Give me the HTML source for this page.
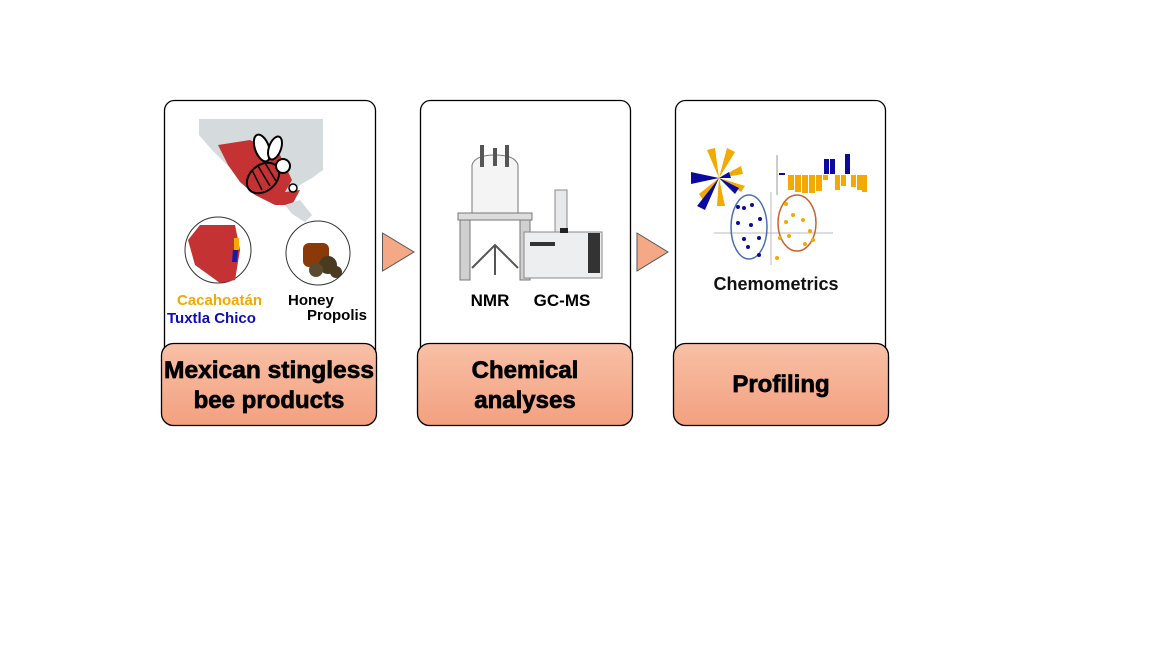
<!DOCTYPE html>
<html><head><meta charset="utf-8"><style>
html,body{margin:0;padding:0;background:#fff;width:1152px;height:648px;overflow:hidden}
svg{display:block}
text{font-family:"Liberation Sans",Arial,sans-serif;font-weight:bold}
.big{stroke:#000;stroke-width:0.7}
</style></head><body>
<svg width="1152" height="648" viewBox="0 0 1152 648">
<defs>
<linearGradient id="g" x1="0" y1="0" x2="0" y2="1"><stop offset="0" stop-color="#f8c0a6"/><stop offset="1" stop-color="#f3a07f"/></linearGradient>
</defs>
<!-- panel 1 -->
<rect x="164.5" y="100.5" width="211" height="260" rx="10" fill="#fff" stroke="#000" stroke-width="1.3"/>
<path d="M199 119 L323 119 L323 170 L312 178 L300 185 L290 196 L276 204 L258 192 L245 180 L230 168 L212 150 L199 135Z" fill="#d5dbdc"/>
<path d="M218 145 L250 140 L280 155 L292 180 L285 192 L300 190 L292 205 L275 205 L255 195 L240 182 L228 165Z" fill="#c53233"/>
<path d="M285 205 L300 200 L312 215 L305 222 L292 214Z" fill="#d5dbdc"/>
<ellipse cx="263" cy="178" rx="13" ry="18" fill="#c53233" stroke="#000" stroke-width="2" transform="rotate(50 263 178)"/>
<path d="M252 170 L262 190 M258 166 L270 186 M265 163 L276 181" stroke="#000" stroke-width="1.5"/>
<ellipse cx="262" cy="148" rx="7" ry="14" fill="#fff" stroke="#000" stroke-width="2" transform="rotate(-20 262 148)"/>
<ellipse cx="275" cy="148" rx="6" ry="12" fill="#fff" stroke="#000" stroke-width="2" transform="rotate(20 275 148)"/>
<circle cx="283" cy="166" r="7" fill="#fff" stroke="#000" stroke-width="2"/>
<circle cx="293" cy="188" r="4" fill="#fff" stroke="#000" stroke-width="1.5"/>
<circle cx="218" cy="250" r="33" fill="#fff" stroke="#333"/>
<path d="M200 225 L235 225 L240 250 L235 280 L220 283 L195 265 L188 240Z" fill="#c53233"/>
<path d="M234 238 L239 238 L239 250 L234 250Z" fill="#f2a900"/>
<path d="M233 250 L238 250 L237 262 L232 262Z" fill="#1a1aa8"/>
<circle cx="318" cy="253" r="32" fill="#fff" stroke="#333"/>
<rect x="303" y="243" width="26" height="24" rx="6" fill="#8a3a08"/>
<circle cx="328" cy="265" r="9" fill="#4a3a20"/><circle cx="316" cy="270" r="7" fill="#5b4a30"/><circle cx="336" cy="272" r="6" fill="#4a3a20"/>
<text x="177" y="305" font-size="15" fill="#f2a900">Cacahoatán</text>
<text x="167" y="323" font-size="15" fill="#0d0db0">Tuxtla Chico</text>
<text x="288" y="305" font-size="15" fill="#000">Honey</text>
<text x="307" y="320" font-size="15" fill="#000">Propolis</text>
<rect x="161.5" y="343.5" width="215" height="82" rx="12" fill="url(#g)" stroke="#000" stroke-width="1.3"/>
<text class="big" x="269" y="378" font-size="24" text-anchor="middle" fill="#000" textLength="210" lengthAdjust="spacingAndGlyphs">Mexican stingless</text>
<text class="big" x="269" y="408" font-size="24" text-anchor="middle" fill="#000">bee products</text>
<!-- arrow 1 -->
<path d="M382.5 233 L414 252 L382.5 271Z" fill="#f4a886" stroke="#555"/>
<!-- panel 2 -->
<rect x="420.5" y="100.5" width="210" height="260" rx="10" fill="#fff" stroke="#000" stroke-width="1.3"/>
<path d="M472 165 Q475 155 495 155 Q515 155 518 165 L518 215 L472 215Z" fill="#f4f4f4" stroke="#777"/>
<rect x="460" y="218" width="10" height="62" fill="#d0d0d0" stroke="#777"/>
<rect x="520" y="218" width="10" height="62" fill="#d0d0d0" stroke="#777"/>
<rect x="458" y="213" width="74" height="7" fill="#ddd" stroke="#777"/>
<path d="M472 268 L495 245 L518 268 M495 245 L495 275" stroke="#555" stroke-width="2" fill="none"/>
<rect x="480" y="145" width="4" height="22" fill="#555"/><rect x="493" y="148" width="4" height="18" fill="#555"/><rect x="505" y="145" width="4" height="22" fill="#555"/>
<rect x="524" y="232" width="78" height="46" fill="#eceef0" stroke="#888"/>
<rect x="555" y="190" width="12" height="42" fill="#e6e8ea" stroke="#888"/>
<rect x="560" y="228" width="8" height="5" fill="#222"/>
<rect x="530" y="242" width="25" height="4" fill="#333"/>
<rect x="588" y="233" width="12" height="40" fill="#333"/>
<text x="490" y="306" font-size="17" text-anchor="middle" fill="#000">NMR</text>
<text x="562" y="306" font-size="17" text-anchor="middle" fill="#000">GC-MS</text>
<rect x="417.5" y="343.5" width="215" height="82" rx="12" fill="url(#g)" stroke="#000" stroke-width="1.3"/>
<text class="big" x="525" y="378" font-size="24" text-anchor="middle" fill="#000">Chemical</text>
<text class="big" x="525" y="408" font-size="24" text-anchor="middle" fill="#000">analyses</text>
<!-- arrow 2 -->
<path d="M637 233 L668 252 L637 271Z" fill="#f4a886" stroke="#555"/>
<!-- panel 3 -->
<rect x="675.5" y="100.5" width="210" height="260" rx="10" fill="#fff" stroke="#000" stroke-width="1.3"/>
<g transform="translate(719 178)">
<g fill="#f2a900"><path d="M0 0 L-12 -28 L-4 -30Z"/><path d="M0 0 L8 -30 L16 -26Z"/><path d="M0 0 L22 -12 L24 -4Z"/><path d="M0 0 L26 8 L22 14Z"/><path d="M0 0 L6 28 L-2 28Z"/><path d="M0 0 L-20 16 L-16 22Z"/><path d="M0 0 L-20 -4 L-20 2Z"/></g>
<g fill="#0a0aa0"><path d="M0 0 L-28 -6 L-28 6Z"/><path d="M0 0 L-14 32 L-22 28Z"/><path d="M0 0 L10 -6 L12 0Z"/><path d="M0 0 L20 10 L16 16Z"/></g>
</g>
<line x1="777" y1="155" x2="777" y2="195" stroke="#999"/>
<rect x="779" y="173" width="6" height="2" fill="#0a0aa0"/>
<g fill="#f2a900"><rect x="788" y="175" width="6" height="15"/><rect x="795" y="175" width="6" height="17"/><rect x="802" y="175" width="6" height="18"/><rect x="809" y="175" width="6" height="18"/><rect x="816" y="175" width="6" height="16"/><rect x="823" y="175" width="5" height="5"/><rect x="835" y="175" width="5" height="15"/><rect x="841" y="175" width="5" height="11"/><rect x="851" y="175" width="5" height="12"/><rect x="857" y="175" width="5" height="15"/><rect x="862" y="175" width="5" height="17"/></g>
<g fill="#0a0aa0"><rect x="824" y="159" width="5" height="15"/><rect x="830" y="159" width="5" height="15"/><rect x="845" y="154" width="5" height="20"/></g>
<line x1="714" y1="233" x2="833" y2="233" stroke="#bbb"/>
<line x1="771" y1="192" x2="771" y2="265" stroke="#bbb"/>
<ellipse cx="749" cy="227" rx="18" ry="32" fill="none" stroke="#4a6fb0" stroke-width="1.5"/>
<ellipse cx="797" cy="223" rx="19" ry="28" fill="none" stroke="#c8622a" stroke-width="1.5"/>
<g fill="#0a0aa0"><circle cx="738" cy="207" r="2"/><circle cx="744" cy="208" r="2"/><circle cx="752" cy="205" r="2"/><circle cx="738" cy="223" r="2"/><circle cx="751" cy="225" r="2"/><circle cx="760" cy="219" r="2"/><circle cx="744" cy="239" r="2"/><circle cx="759" cy="238" r="2"/><circle cx="748" cy="247" r="2"/><circle cx="759" cy="255" r="2"/></g>
<g fill="#f2a900"><circle cx="786" cy="204" r="2"/><circle cx="793" cy="215" r="2"/><circle cx="786" cy="222" r="2"/><circle cx="803" cy="220" r="2"/><circle cx="810" cy="231" r="2"/><circle cx="789" cy="236" r="2"/><circle cx="780" cy="238" r="2"/><circle cx="813" cy="240" r="2"/><circle cx="805" cy="244" r="2"/><circle cx="777" cy="258" r="2"/></g>
<text x="776" y="290" font-size="18" text-anchor="middle" fill="#111">Chemometrics</text>
<rect x="673.5" y="343.5" width="215" height="82" rx="12" fill="url(#g)" stroke="#000" stroke-width="1.3"/>
<text class="big" x="781" y="392" font-size="24" text-anchor="middle" fill="#000">Profiling</text>
</svg>
</body></html>
